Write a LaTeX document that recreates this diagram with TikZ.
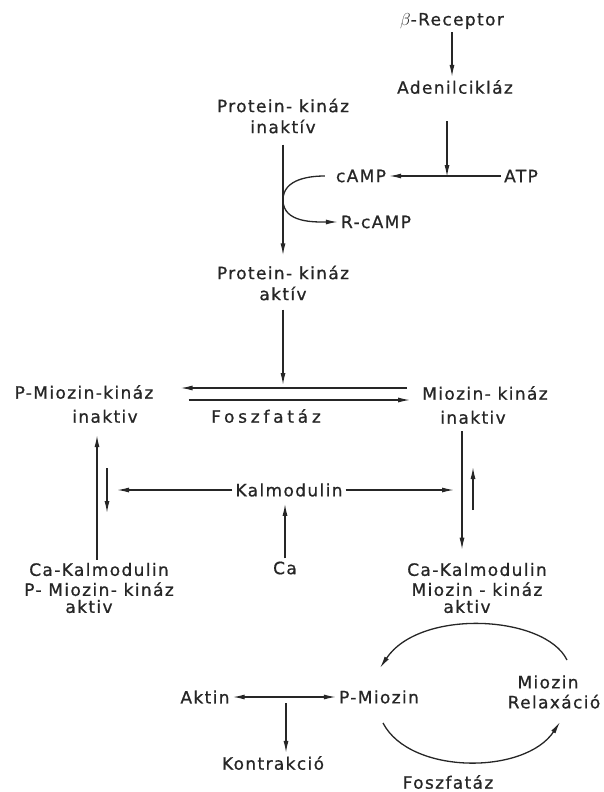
\documentclass[tikz,border=0pt]{standalone}
\usepackage{fontspec}
\setmainfont{DejaVu Sans}[LetterSpace=8, FakeBold=0.8]
\usetikzlibrary{arrows.meta}

\begin{document}
\begin{tikzpicture}[x=1pt, y=-1pt,
    txt/.style={align=center, inner sep=3pt, text=black!85,
                font=\fontsize{17}{21}\selectfont},
    arr/.style={-{Latex[length=12pt,width=5pt]}, line width=1.3pt, black!85},
    arrr/.style={{Latex[length=12pt,width=5pt]}-{Latex[length=12pt,width=5pt]},
                 line width=1.3pt, black!85},
]
\useasboundingbox (0,0) rectangle (603,792);

% --- NODES ---
\node[txt] (rec)   at (452,21)  {$\beta$-Receptor};
\node[txt] (aden)  at (455,87)  {Adenilcikláz};
\node[txt] (pki)   at (283,116) {Protein- kináz\\inaktív};
\node[txt] (atp)   at (521,176) {ATP};
\node[txt] (camp)  at (361,176) {cAMP};
\node[txt] (rcamp) at (376,222) {R-cAMP};
\node[txt] (pka)   at (283,283) {Protein- kináz\\aktív};

\node[txt] (pmki)  at (84,404)  {P-Miozin-kináz\\[3pt]\hspace*{42pt}inaktiv};
\node[txt] (fosz1) at (266,416) {\addfontfeature{LetterSpace=22}Foszfatáz};
\node[txt] (mki)   at (485,405) {Miozin- kináz\\[3pt]inaktiv\hspace*{24pt}};

\node[txt] (kalm)  at (289,490) {Kalmodulin};
\node[txt] (ca)    at (285,568) {Ca};
\node[txt] (ckl)   at (99,588)
    {Ca-Kalmodulin\\[-1pt]P- Miozin- kináz\\[-4pt]aktiv\hspace*{20pt}};
\node[txt] (ckr)   at (477,588)
    {Ca-Kalmodulin\\[-1pt]Miozin - kináz\hspace*{8pt}\\[-4pt]aktiv\hspace*{20pt}};

% bottom cycle
\node[txt] (aktin) at (205,697) {Aktin};
\node[txt] (pm)    at (379,697) {P-Miozin};
\node[txt] (kontr) at (273,763) {Kontrakció};
\node[txt] (mr)    at (554,692) {Miozin\hspace*{12pt}\\[-1pt]Relaxáció};
\node[txt] (fosz2) at (448,782) {Foszfatáz};

% --- COORDINATES ---
\coordinate (cj)  at (447,177);
\coordinate (cv)  at (283,200);
\coordinate (fk)  at (283,385);
\coordinate (up)  at (0,388);
\coordinate (lo)  at (0,400);
\coordinate (vl)  at (97,0);
\coordinate (vr)  at (462,0);
\coordinate (sd1) at (107,468);
\coordinate (sd2) at (107,513);
\coordinate (su1) at (473,510);
\coordinate (su2) at (473,467);
\coordinate (kl)  at (117,490);
\coordinate (kr)  at (454,490);
\coordinate (ak)  at (286,697);
\coordinate (t1)  at (567,660);
\coordinate (t2)  at (380,668);
\coordinate (b1)  at (383,723);
\coordinate (b2)  at (560,722);

% --- ARROWS ---
\draw[arr] (rec.south) -- (rec.south |- aden.north);
\draw[arr, shorten <=24pt] (aden.south -| cj) -- (cj);
\draw[arr] (atp) -- (camp);
\draw[arr, shorten <=8pt] (camp.west) to[out=180, in=90] (cv)
    to[out=-90, in=180] (rcamp.west);
\draw[arr, shorten <=8pt, shorten >=7pt] (pki.south) -- (pka.north);
\draw[arr, shorten <=6pt] (pka.south) -- (fk);

\draw[arr, shorten <=12pt, shorten >=24pt] (mki.west |- up) -- (pmki.east |- up);
\draw[arr, shorten <=32pt, shorten >=9pt] (pmki.east |- lo) -- (mki.west |- lo);

\draw[arr, shorten >=9pt] (ckl.north -| vl) -- (pmki.south -| vl);
\draw[arr] (sd1) -- (sd2);
\draw[arr] (kalm.west) -- (kl);
\draw[arr] (kalm.east) -- (kr);
\draw[arr, shorten >=4pt] (ca.north) -- (ca.north |- kalm.south);
\draw[arr, shorten <=4pt, shorten >=10pt] (mki.south -| vr) -- (ckr.north -| vr);
\draw[arr] (su1) -- (su2);

\draw[arrr] (aktin) -- (pm);
\draw[arr, shorten <=6pt] (ak) -- (ak |- kontr.north);
\draw[arr] (t1) .. controls (545,615) and (420,608) .. (t2);
\draw[arr] (b1) .. controls (410,775) and (525,775) .. (b2);

\end{tikzpicture}
\end{document}
